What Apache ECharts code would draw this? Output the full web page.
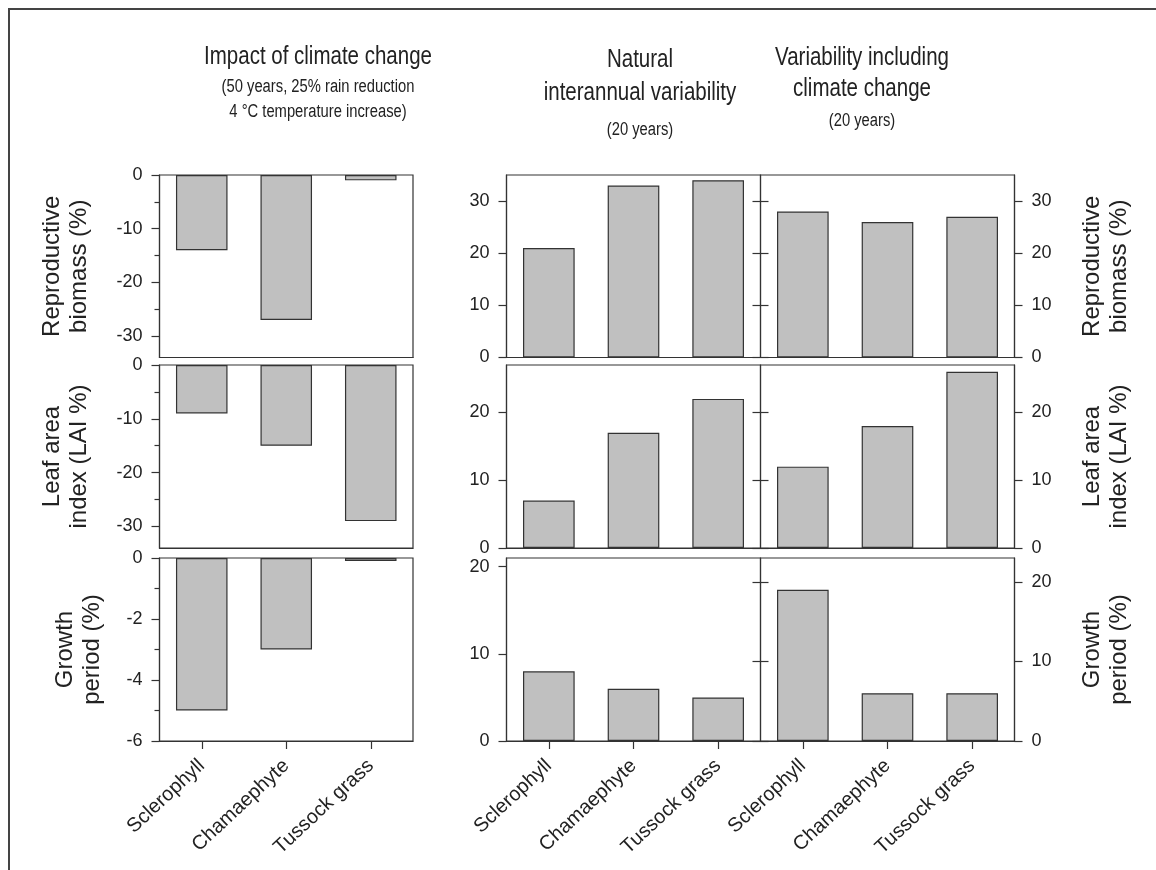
<!DOCTYPE html>
<html>
<head>
<meta charset="utf-8">
<script src="https://cdn.jsdelivr.net/npm/echarts@6/dist/echarts.min.js"></script>
<style>html,body{margin:0;padding:0;background:#fff}#c{width:1156px;height:870px}</style>
</head>
<body>
<div id="c"></div>
<script>
// ---- data ----
const categories = ['Sclerophyll', 'Chamaephyte', 'Tussock grass'];
const impactRepro = [-14, -27, -1];
const impactLAI = [-9, -15, -29];
const impactGrowth = [-5, -3, -0.1];
const naturalRepro = [21, 33, 34];
const naturalLAI = [7, 17, 22];
const naturalGrowth = [8, 6, 5];
const ccRepro = [28, 26, 27];
const ccLAI = [12, 18, 26];
const ccGrowth = [19, 6, 6];
const rowTitles = ['Reproductive\nbiomass (%)', 'Leaf area\nindex (LAI %)', 'Growth\nperiod (%)'];
const impactTicks = [[0, -10, -20, -30], [0, -10, -20, -30], [0, -2, -4, -6]];
const impactMinorTicks = [[-5, -15, -25], [-5, -15, -25], [-1, -3, -5]];
const impactMin = [-34, -34, -6];
const naturalTicks = [[0, 10, 20, 30], [0, 10, 20], [0, 10, 20]];
const naturalMax = [35, 27, 21];
const ccTicks = [[0, 10, 20, 30], [0, 10, 20], [0, 10, 20]];
const ccMax = [35, 27, 23];
const headImpact = ['Impact of climate change', '(50 years, 25% rain reduction', '4 \u00B0C temperature increase)'];
const headNatural = ['Natural', 'interannual variability', '(20 years)'];
const headCC = ['Variability including', 'climate change', '(20 years)'];

// ---- layout ----
const AX = '#333', TXT = '#222';
const FONT = '"Liberation Sans", Arial, sans-serif';
const colLeft = [159.5, 506.5, 760.5];
const colWidth = [253.5, 254, 254];
const rowTop = [175, 365, 558];
const rowHeight = [182.5, 183, 183];
const values = [
  [impactRepro, impactLAI, impactGrowth],
  [naturalRepro, naturalLAI, naturalGrowth],
  [ccRepro, ccLAI, ccGrowth]
];
const line = {color: AX, width: 1.2};
const grid = [], xAxis = [], yAxis = [], series = [];

for (let c = 0; c < 3; c++) {
  for (let r = 0; r < 3; r++) {
    const gi = grid.length;
    grid.push({left: colLeft[c], top: rowTop[r], width: colWidth[c], height: rowHeight[r],
      show: true, borderColor: AX, borderWidth: 1.2, backgroundColor: 'transparent',
      containLabel: false, outerBoundsMode: 'none'});
    xAxis.push({gridIndex: gi, type: 'category', data: categories, position: 'bottom',
      axisLine: {show: true, onZero: false, lineStyle: line},
      axisTick: {show: r === 2, alignWithLabel: true, length: 8, lineStyle: line},
      axisLabel: {show: r === 2, rotate: 43, fontSize: 20, color: TXT, margin: 22, fontFamily: FONT},
      splitLine: {show: false}});
    const baseLabel = {fontSize: 18, color: TXT, fontFamily: FONT, margin: 17};
    const nameStyle = {fontSize: 24, lineHeight: 27, color: TXT, fontFamily: FONT};
    let mainIdx;
    if (c === 0) {
      mainIdx = yAxis.length;
      yAxis.push({gridIndex: gi, type: 'value', min: impactMin[r], max: 0, position: 'left',
        axisLine: {show: true, lineStyle: line},
        axisTick: {show: true, customValues: impactTicks[r], length: 8, lineStyle: line},
        axisLabel: Object.assign({customValues: impactTicks[r]}, baseLabel),
        splitLine: {show: false},
        name: rowTitles[r], nameLocation: 'middle', nameRotate: 90, nameGap: r === 2 ? 54 : 67,
        nameTextStyle: nameStyle});
      yAxis.push({gridIndex: gi, type: 'value', min: impactMin[r], max: 0, position: 'left',
        axisLine: {show: false},
        axisTick: {show: true, customValues: impactMinorTicks[r], length: 5, lineStyle: line},
        axisLabel: {show: false}, splitLine: {show: false}});
    } else if (c === 1) {
      mainIdx = yAxis.length;
      yAxis.push({gridIndex: gi, type: 'value', min: 0, max: naturalMax[r], position: 'left',
        axisLine: {show: true, lineStyle: line},
        axisTick: {show: true, customValues: naturalTicks[r], length: 8, lineStyle: line},
        axisLabel: Object.assign({customValues: naturalTicks[r]}, baseLabel),
        splitLine: {show: false}});
    } else {
      mainIdx = yAxis.length;
      yAxis.push({gridIndex: gi, type: 'value', min: 0, max: ccMax[r], position: 'right',
        axisLine: {show: true, lineStyle: line},
        axisTick: {show: true, customValues: ccTicks[r], length: 8, lineStyle: line},
        axisLabel: Object.assign({customValues: ccTicks[r]}, baseLabel),
        splitLine: {show: false},
        name: rowTitles[r], nameLocation: 'middle', nameRotate: 90, nameGap: 64,
        nameTextStyle: nameStyle});
      yAxis.push({gridIndex: gi, type: 'value', min: 0, max: ccMax[r], position: 'left',
        axisLine: {show: false},
        axisTick: {show: true, customValues: ccTicks[r], length: 8, lineStyle: line},
        axisLabel: {show: false}, splitLine: {show: false}});
      yAxis.push({gridIndex: gi, type: 'value', min: 0, max: ccMax[r], position: 'left',
        axisLine: {show: false},
        axisTick: {show: true, inside: true, customValues: ccTicks[r], length: 8, lineStyle: line},
        axisLabel: {show: false}, splitLine: {show: false}});
    }
    series.push({type: 'bar', xAxisIndex: gi, yAxisIndex: mainIdx, data: values[c][r],
      barWidth: '61%', silent: true,
      itemStyle: {color: '#c0c0c0', borderColor: AX, borderWidth: 1.2}});
  }
}

function headText(lines, x, ys, sizes) {
  return lines.map((t, i) => ({type: 'text', x: x, y: ys[i], scaleX: 0.82, silent: true,
    style: {text: t, x: 0, y: 0, align: 'center', verticalAlign: 'middle', fill: TXT,
      font: sizes[i] + 'px ' + FONT}}));
}

const graphic = [
  {type: 'rect', shape: {x: 9, y: 9, width: 1200, height: 900}, style: {fill: 'none', stroke: '#444', lineWidth: 2}, silent: true}
].concat(headText(headImpact, 318, [57, 87, 112], [25, 18, 18]))
 .concat(headText(headNatural, 640, [60, 93, 130], [25, 25, 18]))
 .concat(headText(headCC, 862, [58, 89, 121], [25, 25, 18]));

const chart = echarts.init(document.getElementById('c'), null, {renderer: 'canvas'});
chart.setOption({animation: false, backgroundColor: '#fff', grid, xAxis, yAxis, series, graphic});
</script>
</body>
</html>
